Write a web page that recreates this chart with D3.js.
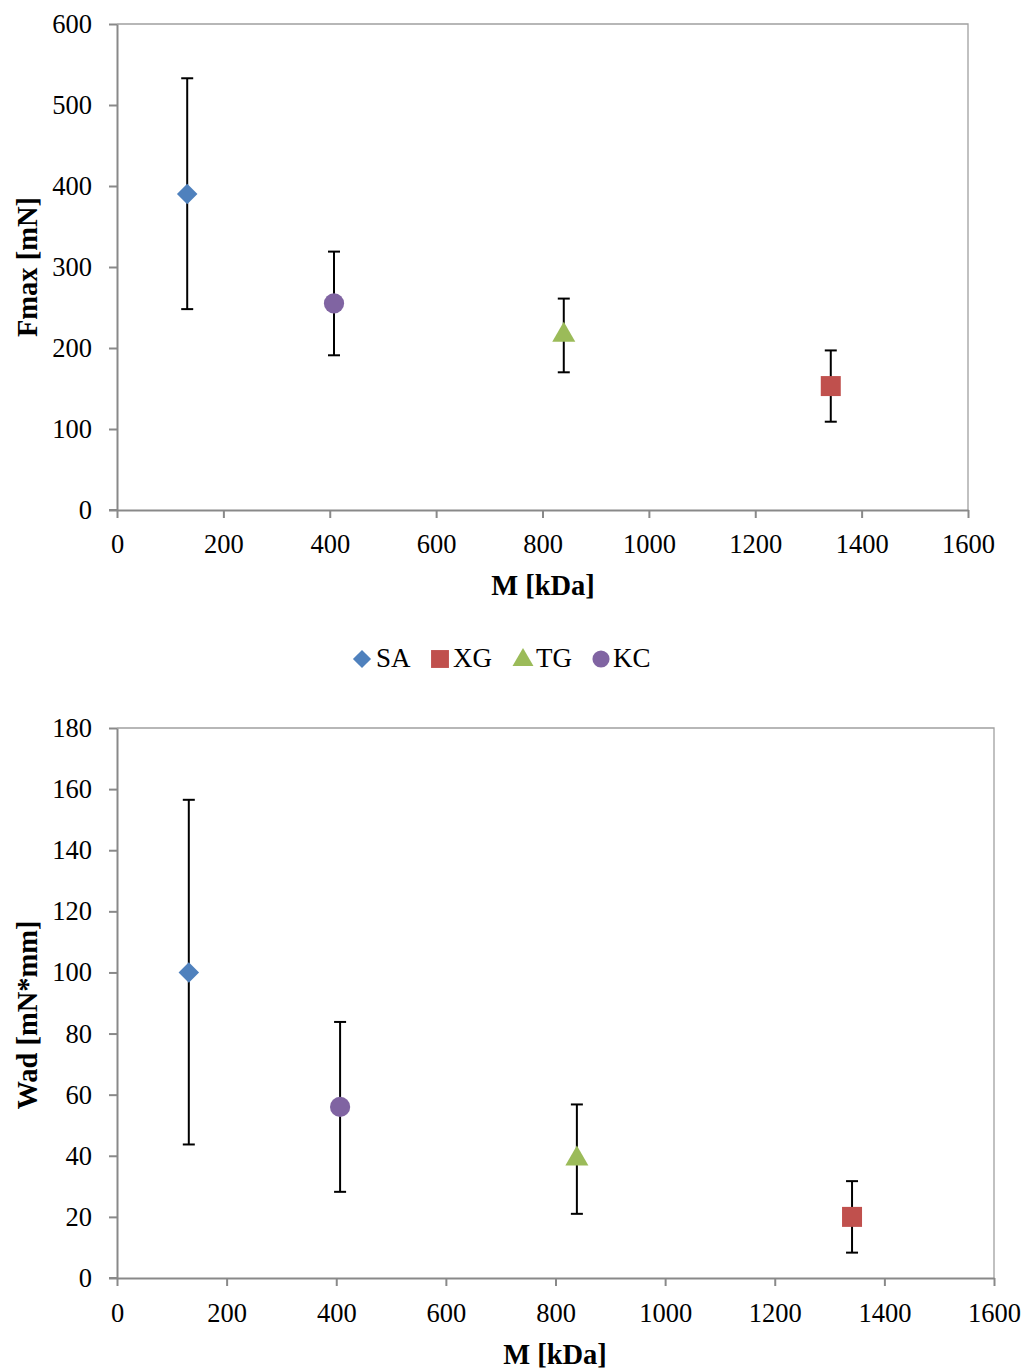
<!DOCTYPE html>
<html><head><meta charset="utf-8">
<script src="https://cdn.jsdelivr.net/npm/d3@7"></script>
<style>body{margin:0;background:#fff}svg{display:block}</style>
</head><body>
<svg id="c" width="1027" height="1370"></svg>
<script>
const categories = ["SA","XG","TG","KC"];
const colors = {SA:"#4F81BD", XG:"#C0504D", TG:"#9BBB59", KC:"#8064A2"};
const shapes = {SA:d3.symbolSquare, XG:d3.symbolSquare, TG:d3.symbolTriangle, KC:d3.symbolCircle};
const rotations = {SA:45, XG:0, TG:0, KC:0};
const massKDa = {SA:132, XG:1342, TG:840, KC:408};
const massKDa2 = {SA:131, XG:1341, TG:839, KC:407};
const fmax = {SA:390, XG:153, TG:216, KC:255};
const fmaxErrUp = {SA:143, XG:44, TG:45, KC:64};
const fmaxErrDown = {SA:142, XG:44, TG:46, KC:64};
const wad = {SA:100, XG:20, TG:39, KC:56};
const wadErrUp = {SA:56.5, XG:11.7, TG:17.8, KC:27.8};
const wadErrDown = {SA:56.3, XG:11.7, TG:18, KC:27.8};
const xTicks = [0,200,400,600,800,1000,1200,1400,1600];
const yTicks1 = [0,100,200,300,400,500,600];
const yTicks2 = [0,20,40,60,80,100,120,140,160,180];

const svg = d3.select("#c");
const font = "'Liberation Serif','Times New Roman',serif";
const axisCol = "#898989";

function sym(type, area){ return d3.symbol().type(type).size(area)(); }
const markerArea = {SA:210, XG:400, TG:230, KC:320};

function chart(o){
  const x = d3.scaleLinear().domain([0,1600]).range([o.left,o.right]);
  const y = d3.scaleLinear().domain([0,o.ymax]).range([o.bottom,o.top]);
  const g = svg.append("g");
  g.append("path").attr("d",`M${o.left},${o.top}H${o.right}V${o.bottom}`)
    .attr("fill","none").attr("stroke","#a0a0a0").attr("stroke-width",1.3);
  const xa = g.append("g").attr("transform",`translate(0,${o.bottom})`)
    .call(d3.axisBottom(x).tickValues(xTicks).tickSize(8).tickSizeOuter(0).tickPadding(o.xPad).tickFormat(d3.format("d")));
  const ya = g.append("g").attr("transform",`translate(${o.left},0)`)
    .call(d3.axisLeft(y).tickValues(o.yTicks).tickSize(8).tickSizeOuter(0).tickPadding(17).tickFormat(d3.format("d")));
  [xa,ya].forEach(a=>{
    a.select(".domain").attr("stroke",axisCol).attr("stroke-width",2);
    a.selectAll(".tick line").attr("stroke",axisCol).attr("stroke-width",2);
    a.selectAll(".tick text").attr("fill","#000").style("font-family",font).style("font-size","26.5px");
  });
  g.append("line").attr("x1",o.left-8).attr("x2",o.left).attr("y1",o.bottom).attr("y2",o.bottom)
    .attr("stroke",axisCol).attr("stroke-width",2);
  g.append("text").attr("x",o.xTitleX).attr("y",o.xTitleY).attr("text-anchor","middle")
    .style("font-family",font).style("font-size","28.5px").style("font-weight","bold").text("M [kDa]");
  g.append("text").attr("transform",`translate(${o.yTitleX},${o.yTitleY}) rotate(-90)`)
    .attr("text-anchor","middle").style("font-family",font).style("font-size","28.5px").style("font-weight","bold").text(o.yTitle);
  categories.forEach(c=>{
    const cx = x(o.xs[c]);
    const yt = y(o.vals[c]+o.up[c]), yb = y(o.vals[c]-o.down[c]);
    const eb = g.append("g").attr("stroke","#000").attr("stroke-width",2);
    eb.append("line").attr("x1",cx).attr("x2",cx).attr("y1",yt).attr("y2",yb);
    eb.append("line").attr("x1",cx-6).attr("x2",cx+6).attr("y1",yt).attr("y2",yt);
    eb.append("line").attr("x1",cx-6).attr("x2",cx+6).attr("y1",yb).attr("y2",yb);
  });
  categories.forEach(c=>{
    g.append("path").attr("d",sym(shapes[c],markerArea[c]))
      .attr("transform",`translate(${x(o.xs[c])},${y(o.vals[c])}) rotate(${rotations[c]})`)
      .attr("fill",colors[c]);
  });
}

chart({left:117,right:968,top:24,bottom:510,ymax:600,yTicks:yTicks1,xs:massKDa,vals:fmax,up:fmaxErrUp,down:fmaxErrDown,
  yTitle:"Fmax [mN]",yTitleX:37,yTitleY:267,xTitleX:543,xTitleY:595,xPad:16});
chart({left:117,right:994,top:728,bottom:1278,ymax:180,yTicks:yTicks2,xs:massKDa2,vals:wad,up:wadErrUp,down:wadErrDown,
  yTitle:"Wad [mN*mm]",yTitleX:37,yTitleY:1015,xTitleX:555,xTitleY:1364,xPad:17});

const legendItems = [{c:"SA",x:362,tx:376},{c:"XG",x:440,tx:453},{c:"TG",x:523,tx:536},{c:"KC",x:601,tx:613}];
const lg = svg.append("g");
const legArea = {SA:165, XG:320, TG:190, KC:230};
legendItems.forEach(it=>{
  lg.append("path").attr("d",sym(shapes[it.c],legArea[it.c]))
    .attr("transform",`translate(${it.x},${it.c==="TG"?660:659}) rotate(${rotations[it.c]})`).attr("fill",colors[it.c]);
  lg.append("text").attr("x",it.tx).attr("y",667).style("font-family",font).style("font-size","27px").text(it.c);
});
</script>
</body></html>
